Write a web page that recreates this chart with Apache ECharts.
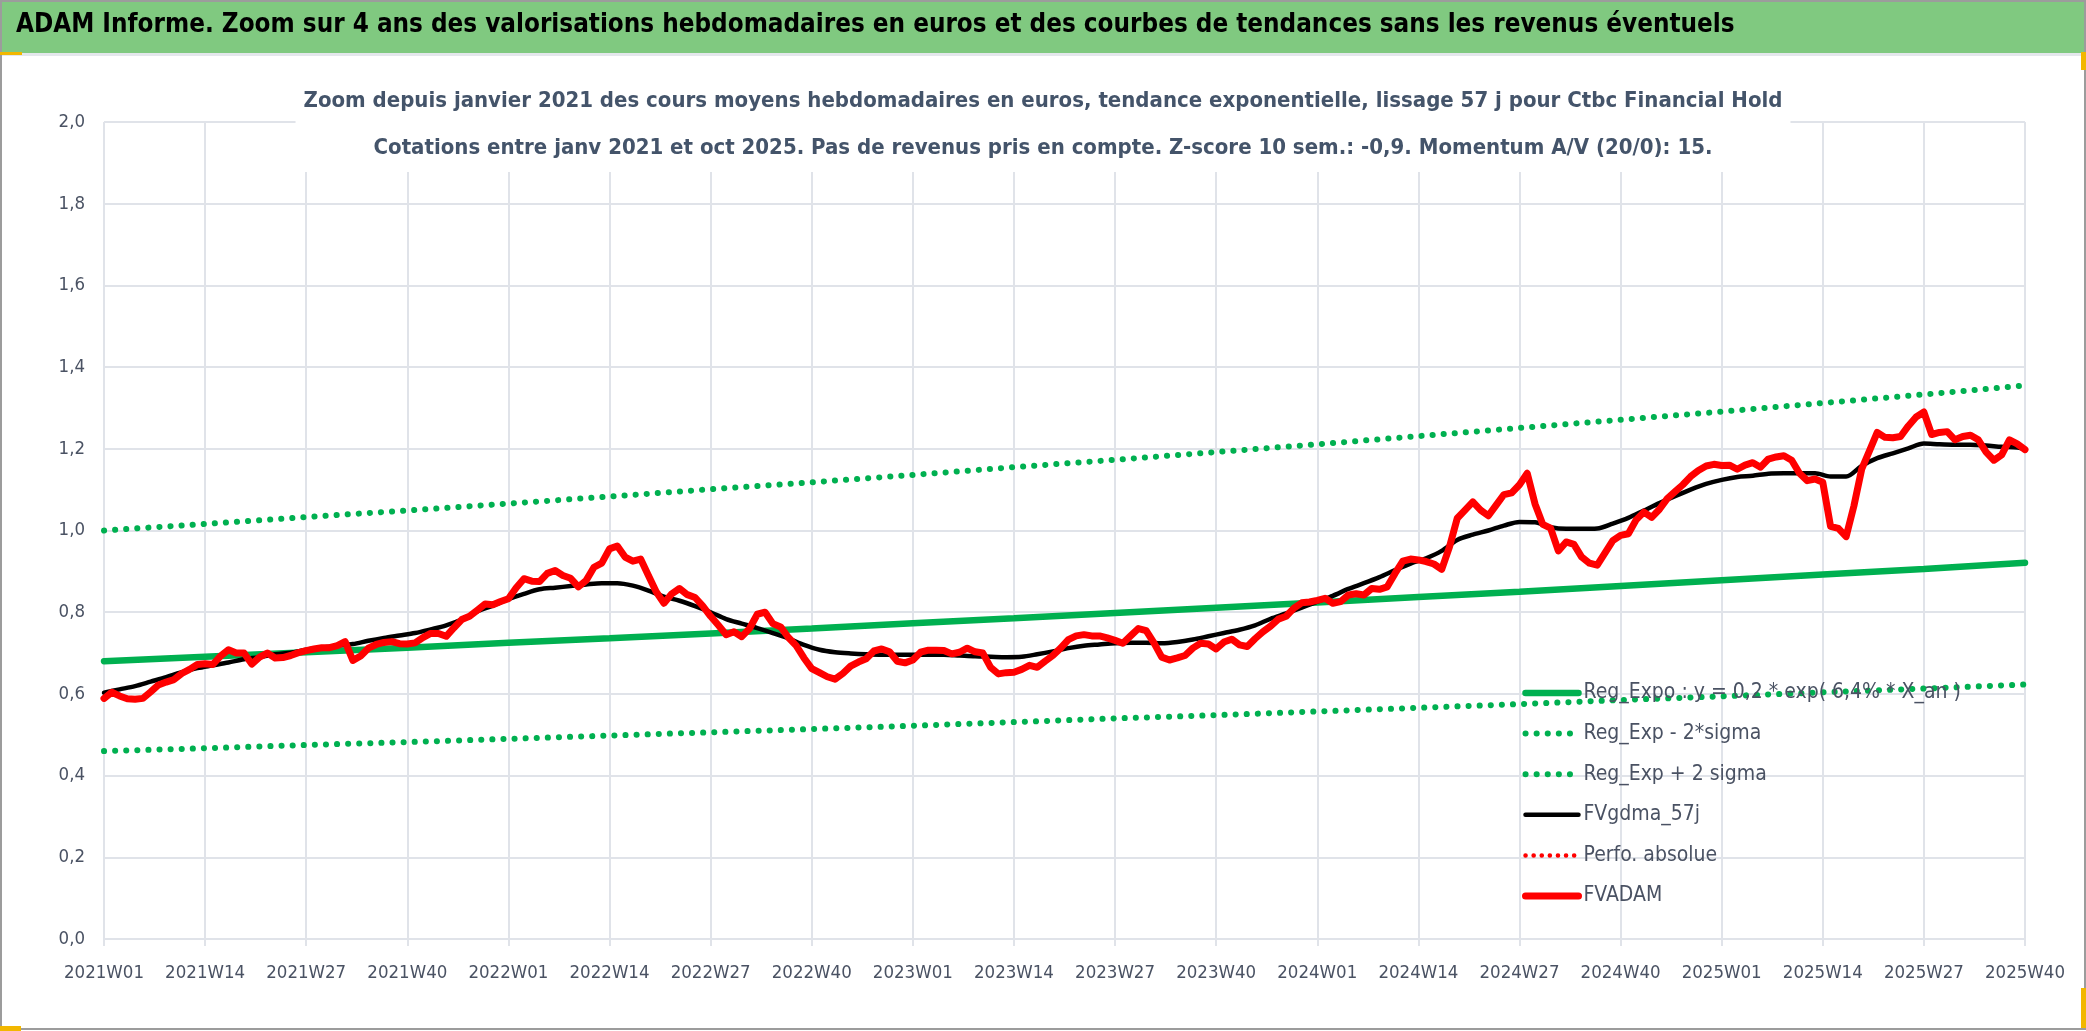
<!DOCTYPE html>
<html>
<head>
<meta charset="utf-8">
<title>ADAM Informe - Ctbc Financial Hold</title>
<script src="https://cdn.jsdelivr.net/npm/echarts@6/dist/echarts.min.js"></script>
<style>
  html, body { margin: 0; padding: 0; background: #fff; }
  #chart { width: 2086px; height: 1031px; }
</style>
</head>
<body>
<div id="chart"></div>
<script>
var pageTitle = 'ADAM Informe. Zoom sur 4 ans des valorisations hebdomadaires en euros et des courbes de tendances sans les revenus éventuels';
var subTitle = 'Zoom depuis janvier 2021 des cours moyens hebdomadaires en euros, tendance exponentielle, lissage 57 j pour Ctbc Financial Hold\n' +
  'Cotations entre janv 2021 et oct 2025. Pas de revenus pris en compte. Z-score 10 sem.: -0,9. Momentum A/V (20/0): 15.';

// semaines 2021W01 .. 2025W40
var years = [2021, 2022, 2023, 2024, 2025];
var weeksPerYear = 52;
var lastWeekOfLastYear = 40;
var labelStep = 13; // un libellé toutes les 13 semaines

// noms des courbes (légende)
var names = [
  'Reg_Expo : y = 0,2 * exp( 6,4% * X_an )',
  'Reg_Exp - 2*sigma',
  'Reg_Exp + 2 sigma',
  'FVgdma_57j',
  'Perfo. absolue',
  'FVADAM'
];

// tendances, une valeur par libellé (toutes les 13 semaines)
var regExpo  = [0.680, 0.691, 0.702, 0.713, 0.725, 0.736, 0.748, 0.760, 0.773, 0.785,
                0.798, 0.811, 0.824, 0.837, 0.850, 0.864, 0.878, 0.892, 0.906, 0.921];
var regMinus = [0.460, 0.467, 0.475, 0.482, 0.490, 0.498, 0.506, 0.514, 0.522, 0.531,
                0.540, 0.548, 0.557, 0.566, 0.575, 0.585, 0.594, 0.604, 0.613, 0.623];
var regPlus  = [1.000, 1.016, 1.033, 1.049, 1.066, 1.083, 1.101, 1.118, 1.136, 1.155,
                1.173, 1.192, 1.211, 1.231, 1.251, 1.271, 1.291, 1.312, 1.333, 1.355];

// moyenne lissée 57 j, une valeur toutes les 2 semaines (la dernière = dernière semaine)
var fvgdma = [
  0.603, 0.611, 0.619, 0.630, 0.641, 0.653, 0.663, 0.670, 0.677, 0.685,
  0.690, 0.697, 0.701, 0.708, 0.713, 0.718, 0.722, 0.730, 0.737, 0.743,
  0.749, 0.758, 0.768, 0.782, 0.802, 0.816, 0.832, 0.845, 0.856, 0.860,
  0.864, 0.868, 0.871, 0.871, 0.865, 0.853, 0.838, 0.828, 0.815, 0.800,
  0.783, 0.772, 0.761, 0.749, 0.736, 0.720, 0.708, 0.702, 0.699, 0.697,
  0.696, 0.696, 0.696, 0.696, 0.696, 0.694, 0.692, 0.691, 0.690, 0.691,
  0.697, 0.704, 0.712, 0.718, 0.721, 0.724, 0.725, 0.725, 0.724, 0.727,
  0.733, 0.741, 0.749, 0.757, 0.768, 0.784, 0.797, 0.811, 0.826, 0.840,
  0.857, 0.871, 0.886, 0.903, 0.919, 0.932, 0.950, 0.977, 0.990, 1.000,
  1.012, 1.021, 1.020, 1.008, 1.004, 1.004, 1.005, 1.017, 1.031, 1.049,
  1.067, 1.084, 1.100, 1.114, 1.124, 1.131, 1.134, 1.139, 1.140, 1.140,
  1.140, 1.132, 1.132, 1.158, 1.177, 1.189, 1.201, 1.213, 1.211, 1.210,
  1.210, 1.208, 1.205, 1.203, 1.200
];

// cours moyens hebdomadaires en euros
var fvadam = [
  0.589, 0.604, 0.595, 0.588, 0.587, 0.589, 0.605, 0.622, 0.629, 0.635,
  0.650, 0.660, 0.672, 0.674, 0.672, 0.693, 0.708, 0.700, 0.700, 0.673,
  0.690, 0.700, 0.688, 0.689, 0.694, 0.701, 0.706, 0.710, 0.713, 0.713,
  0.718, 0.728, 0.682, 0.693, 0.712, 0.721, 0.726, 0.728, 0.723, 0.722,
  0.725, 0.738, 0.748, 0.748, 0.741, 0.762, 0.782, 0.790, 0.805, 0.820,
  0.818, 0.826, 0.833, 0.860, 0.882, 0.876, 0.875, 0.895, 0.902, 0.890,
  0.883, 0.862, 0.878, 0.910, 0.920, 0.955, 0.962, 0.935, 0.925, 0.930,
  0.890, 0.850, 0.822, 0.845, 0.858, 0.843, 0.836, 0.815, 0.790, 0.768,
  0.745, 0.752, 0.740, 0.760, 0.795, 0.800, 0.772, 0.764, 0.738, 0.718,
  0.688, 0.662, 0.652, 0.642, 0.636, 0.650, 0.668, 0.678, 0.686, 0.705,
  0.710, 0.703, 0.680, 0.676, 0.683, 0.702, 0.707, 0.707, 0.706, 0.698,
  0.702, 0.712, 0.703, 0.700, 0.665, 0.649, 0.652, 0.653, 0.660, 0.670,
  0.665, 0.680, 0.694, 0.712, 0.733, 0.742, 0.745, 0.742, 0.742, 0.737,
  0.731, 0.724, 0.742, 0.760, 0.755, 0.725, 0.690, 0.683, 0.688, 0.694,
  0.712, 0.724, 0.722, 0.710, 0.727, 0.734, 0.720, 0.716, 0.735, 0.752,
  0.766, 0.783, 0.790, 0.810, 0.823, 0.825, 0.829, 0.834, 0.822, 0.826,
  0.842, 0.845, 0.842, 0.858, 0.856, 0.862, 0.895, 0.925, 0.930, 0.928,
  0.924, 0.918, 0.905, 0.960, 1.030, 1.050, 1.070, 1.050, 1.036, 1.062,
  1.088, 1.092, 1.112, 1.140, 1.065, 1.015, 1.006, 0.950, 0.972, 0.966,
  0.935, 0.920, 0.915, 0.945, 0.975, 0.988, 0.992, 1.026, 1.045, 1.032,
  1.052, 1.078, 1.095, 1.112, 1.132, 1.147, 1.158, 1.162, 1.159, 1.160,
  1.150, 1.160, 1.166, 1.155, 1.175, 1.180, 1.183, 1.172, 1.140, 1.122,
  1.126, 1.118, 1.010, 1.005, 0.985, 1.060, 1.150, 1.195, 1.240, 1.228,
  1.227, 1.230, 1.256, 1.278, 1.290, 1.235, 1.240, 1.242, 1.222, 1.230,
  1.233, 1.222, 1.192, 1.172, 1.185, 1.222, 1.212, 1.198
];

var font = "'DejaVu Sans Condensed', 'DejaVu Sans', sans-serif";
var textGrey = '#4A5263';
var gridGrey = '#E0E3E9';
var green = '#00B050';
var red = '#FF0000';

// libellés de semaines
var weeks = [];
years.forEach(function (y, i) {
  var n = i === years.length - 1 ? lastWeekOfLastYear : weeksPerYear;
  for (var w = 1; w <= n; w++) weeks.push(y + 'W' + (w < 10 ? '0' + w : w));
});
var last = weeks.length - 1;

function atTicks(arr) {
  return arr.map(function (v, i) { return [i * labelStep, v]; });
}
function every2(arr) {
  return arr.map(function (v, i) { return [Math.min(i * 2, last), v]; });
}

var solidGreen = { color: green, width: 6.5, cap: 'round' };
var dotGreen = { color: green, width: 6, type: [0.1, 11], cap: 'round' };
var solidBlack = { color: '#000', width: 4.5, join: 'round', cap: 'round' };
var dotRed = { color: red, width: 4.5, type: [0.1, 8], cap: 'round' };
var solidRed = { color: red, width: 7, join: 'round', cap: 'round' };
var styles = [solidGreen, dotGreen, dotGreen, solidBlack, dotRed, solidRed];

var chart = echarts.init(document.getElementById('chart'));
chart.setOption({
  animation: false,
  backgroundColor: '#fff',
  textStyle: { fontFamily: font },
  graphic: [
    { type: 'rect', z: -10, shape: { x: 0, y: 0, width: 2086, height: 53 }, style: { fill: '#80C980' } },
    { type: 'rect', z: -10, shape: { x: 0, y: 53, width: 2086, height: 3 }, style: { fill: '#E4E7EC' } },
    { type: 'rect', z: -10, shape: { x: 1, y: 1, width: 2084, height: 1028 }, style: { fill: null, stroke: '#9C9C9C', lineWidth: 2 } },
    { type: 'rect', z: -9, shape: { x: 0, y: 52, width: 22, height: 3 }, style: { fill: '#F2B700' } },
    { type: 'rect', z: -9, shape: { x: 2081, y: 52, width: 5, height: 18 }, style: { fill: '#F2B700' } },
    { type: 'rect', z: -9, shape: { x: 2081, y: 988, width: 5, height: 40 }, style: { fill: '#F2B700' } },
    { type: 'rect', z: -9, shape: { x: 0, y: 1026, width: 21, height: 5 }, style: { fill: '#F2B700' } }
  ],
  title: [
    {
      text: pageTitle,
      left: 16, top: 12, padding: 0,
      textStyle: { fontFamily: font, fontSize: 25.8, fontWeight: 'bold', color: '#000' }
    },
    {
      text: subTitle,
      left: 'center', top: 78, padding: [0, 8],
      backgroundColor: '#fff',
      textStyle: { fontFamily: font, fontSize: 22, fontWeight: 'bold', color: '#44546A', lineHeight: 47, align: 'center' }
    }
  ],
  legend: {
    orient: 'vertical',
    left: 1517, top: 676,
    itemWidth: 53, itemHeight: 14, itemGap: 16.6,
    itemStyle: { opacity: 0 },
    data: names.map(function (n, i) { return { name: n, lineStyle: styles[i] }; }),
    textStyle: { fontFamily: font, fontSize: 21, color: textGrey, lineHeight: 24 }
  },
  grid: { left: 104, right: 61, top: 122, bottom: 92 },
  xAxis: {
    type: 'category',
    data: weeks,
    boundaryGap: false,
    axisLine: { lineStyle: { color: gridGrey, width: 2 } },
    axisTick: { show: true, interval: labelStep - 1, length: 7, lineStyle: { color: gridGrey, width: 2 } },
    axisLabel: { interval: labelStep - 1, fontFamily: font, fontSize: 18.5, color: textGrey, margin: 25 },
    splitLine: { show: true, interval: labelStep - 1, lineStyle: { color: gridGrey, width: 2 } }
  },
  yAxis: {
    type: 'value',
    min: 0, max: 2, interval: 0.2,
    axisLine: { show: false },
    axisTick: { show: false },
    axisLabel: {
      fontFamily: font, fontSize: 18.5, color: textGrey, margin: 19,
      formatter: function (v) { return v.toFixed(1).replace('.', ','); }
    },
    splitLine: { lineStyle: { color: gridGrey, width: 2 } }
  },
  series: [
    { name: names[0], type: 'line', symbol: 'none', data: atTicks(regExpo), lineStyle: solidGreen, itemStyle: { color: green } },
    { name: names[1], type: 'line', symbol: 'none', data: atTicks(regMinus), lineStyle: dotGreen, itemStyle: { color: green } },
    { name: names[2], type: 'line', symbol: 'none', data: atTicks(regPlus), lineStyle: dotGreen, itemStyle: { color: green } },
    { name: names[3], type: 'line', symbol: 'none', data: every2(fvgdma), smooth: 0.3, lineStyle: solidBlack, itemStyle: { color: '#000' } },
    { name: names[4], type: 'line', symbol: 'none', data: [], lineStyle: dotRed, itemStyle: { color: red } },
    { name: names[5], type: 'line', symbol: 'none', data: fvadam, lineStyle: solidRed, itemStyle: { color: red } }
  ]
});
</script>
</body>
</html>
